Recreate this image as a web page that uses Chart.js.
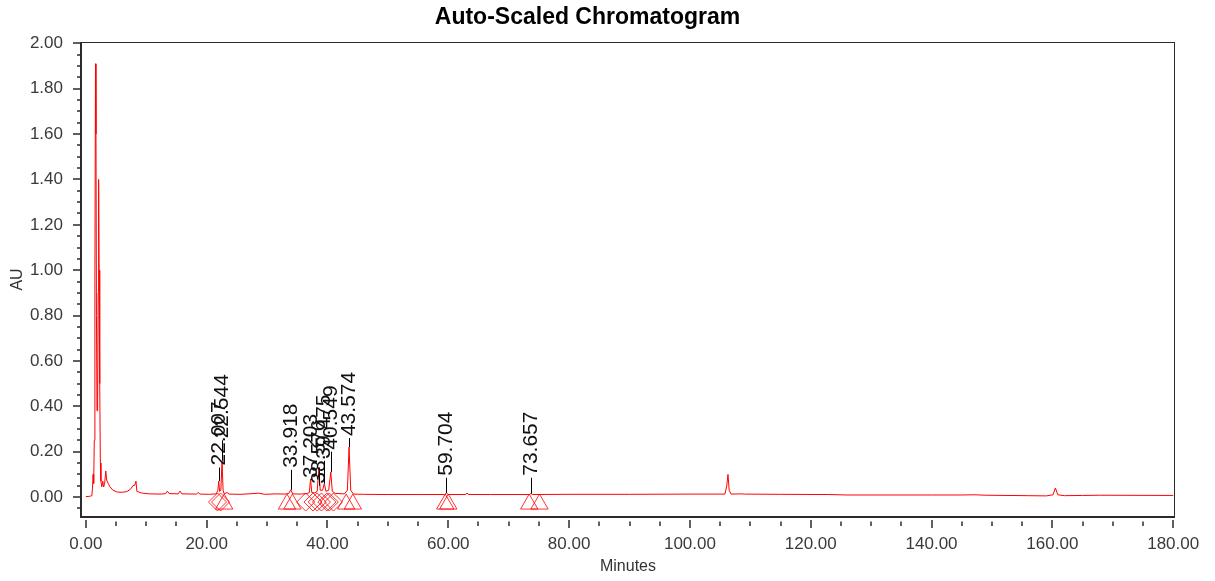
<!DOCTYPE html>
<html>
<head>
<meta charset="utf-8">
<script src="https://cdn.jsdelivr.net/npm/chart.js@4.4.1/dist/chart.umd.min.js"></script>
<style>
  html, body { margin: 0; padding: 0; background: #fff; }
  #wrap { width: 1215px; height: 581px; }
</style>
</head>
<body>
<div id="wrap"><canvas id="chromato" width="1215" height="581"></canvas></div>
<script>
// trace (minutes / AU)
const traceMinutes = [
  0.0, 0.6, 1.0, 1.1, 1.2, 1.3, 1.4, 1.5, 1.6, 1.68, 1.76, 1.85, 1.95, 2.05, 2.12, 2.2, 2.3, 2.4, 2.5,
  2.65, 2.8, 2.95, 3.1, 3.3, 3.45, 3.7, 4.0, 4.5, 5.2, 6.0, 6.8, 7.4, 7.8, 8.1, 8.3, 8.45, 9.2,
  10.5, 12.5, 13.2, 13.5, 13.8, 15.3, 15.6, 15.9, 18.3, 18.6, 18.9, 20.5, 21.6, 21.85, 22.0, 22.15,
  22.35, 22.55, 22.72, 22.9, 23.4, 23.7, 25.5, 27.0, 28.6, 29.6, 31.5, 33.0, 33.6, 33.92, 34.25,
  35.5, 36.6, 37.0, 37.2, 37.4, 37.9, 38.3, 38.58, 38.8, 39.2, 39.48, 39.75, 40.2, 40.55, 40.8,
  41.3, 42.8, 43.3, 43.57, 43.85, 44.3, 46, 50, 55, 59.4, 59.7, 60.0, 62.8, 63.1, 63.4, 67, 73.4,
  73.66, 74.0, 80, 90, 100, 105.8, 106.1, 106.3, 106.5, 106.8, 108.5, 109, 115, 123, 126, 140,
  145, 147, 149, 156, 159, 160.1, 160.5, 160.9, 162, 165, 168, 180
];
const traceAU = [
  0.002, 0.003, 0.006, 0.04, 0.10, 0.06, 0.25, 0.95, 1.91, 1.6, 0.8, 0.38, 0.42, 0.9, 1.40, 1.0, 0.5, 0.15, 0.07,
  0.045, 0.07, 0.045, 0.055, 0.115, 0.075, 0.06, 0.045, 0.03, 0.022, 0.021, 0.024, 0.035, 0.05, 0.052, 0.07, 0.025, 0.018,
  0.014, 0.013, 0.015, 0.026, 0.015, 0.014, 0.026, 0.014, 0.013, 0.02, 0.013, 0.012, 0.014, 0.03, 0.07, 0.025,
  0.03, 0.16, 0.03, 0.014, 0.02, 0.013, 0.012, 0.014, 0.017, 0.012, 0.014, 0.013, 0.016, 0.032, 0.014,
  0.013, 0.015, 0.02, 0.08, 0.02, 0.018, 0.025, 0.13, 0.03, 0.03, 0.06, 0.025, 0.03, 0.11, 0.025,
  0.016, 0.014, 0.03, 0.22, 0.03, 0.013, 0.012, 0.011, 0.011, 0.011, 0.018, 0.011, 0.011, 0.017, 0.011, 0.011, 0.011,
  0.015, 0.011, 0.012, 0.012, 0.013, 0.013, 0.05, 0.10, 0.03, 0.013, 0.014, 0.013, 0.012, 0.011, 0.009, 0.009,
  0.009, 0.010, 0.008, 0.006, 0.005, 0.01, 0.04, 0.01, 0.006, 0.007, 0.008, 0.007
];

// labelled peaks
const peakNames = ['22.007', '22.544', '33.918', '37.203', '38.576', '39.475', '40.549', '43.574', '59.704', '73.657'];
const peakTimes = [22.007, 22.544, 33.918, 37.203, 38.576, 39.475, 40.549, 43.574, 59.704, 73.657];
const peakTops = [0.07, 0.16, 0.032, 0.08, 0.13, 0.06, 0.11, 0.22, 0.018, 0.015];
const labelBaseAU = [0.13, 0.25, 0.12, 0.075, 0.05, 0.16, 0.20, 0.26, 0.085, 0.085];

// integration marks
const triangleTimes = [22.9, 33.3, 34.2, 43.1, 44.2, 59.5, 60.0, 73.4, 75.1];
const diamondTimes = [21.8, 22.3, 36.4, 37.6, 38.3, 39.0, 39.9, 40.3, 41.0];

const FONT = '"Liberation Sans", Arial, sans-serif';

const frameAndTicks = {
  id: 'frameAndTicks',
  afterDraw(chart) {
    const { ctx, chartArea: a, scales: { x, y } } = chart;
    ctx.save();
    ctx.strokeStyle = '#2b2b2b';
    ctx.lineWidth = 1;
    ctx.strokeRect(a.left + 0.5, a.top + 0.5, a.right - a.left - 1, a.bottom - a.top - 1);
    ctx.lineWidth = 2;
    ctx.beginPath();
    ctx.moveTo(a.left, a.top);
    ctx.lineTo(a.left, a.bottom);
    ctx.lineTo(a.right, a.bottom);
    ctx.stroke();

    ctx.lineWidth = 1.5;
    x.ticks.forEach(t => {
      const px = Math.round(x.getPixelForValue(t.value));
      const major = t.label !== '';
      ctx.beginPath();
      ctx.moveTo(px, a.bottom + (major ? 3 : 4.5));
      ctx.lineTo(px, a.bottom + (major ? 11 : 9));
      ctx.stroke();
    });
    y.ticks.forEach(t => {
      const py = Math.round(y.getPixelForValue(t.value));
      const major = t.label !== '';
      ctx.beginPath();
      ctx.moveTo(a.left - (major ? 8 : 4), py);
      ctx.lineTo(a.left, py);
      ctx.stroke();
    });
    ctx.restore();
  }
};

const peakLabels = {
  id: 'peakLabels',
  afterDatasetsDraw(chart) {
    const { ctx, scales: { x, y } } = chart;
    ctx.save();
    ctx.strokeStyle = '#000';
    ctx.fillStyle = '#111';
    ctx.lineWidth = 1;
    ctx.font = '21px ' + FONT;
    peakTimes.forEach((t, i) => {
      const px = Math.round(x.getPixelForValue(t)) + 0.5;
      const yTop = y.getPixelForValue(peakTops[i]);
      const yBase = y.getPixelForValue(labelBaseAU[i]);
      ctx.beginPath();
      ctx.moveTo(px, yTop);
      ctx.lineTo(px, yBase);
      ctx.stroke();
      ctx.save();
      ctx.translate(px, yBase - 2);
      ctx.rotate(-Math.PI / 2);
      ctx.textAlign = 'left';
      ctx.textBaseline = 'middle';
      ctx.fillText(peakNames[i], 0, 0);
      ctx.restore();
    });
    ctx.restore();
  }
};

new Chart(document.getElementById('chromato'), {
  type: 'line',
  data: {
    datasets: [
      {
        data: traceMinutes.map((m, i) => ({ x: m, y: traceAU[i] })),
        borderColor: '#ff0000',
        borderWidth: 1,
        pointRadius: 0,
        tension: 0
      },
      {
        data: triangleTimes.map(m => ({ x: m, y: -0.031 })),
        showLine: false,
        pointStyle: 'triangle',
        pointRadius: 10,
        pointBorderWidth: 1,
        pointBorderColor: 'rgba(255,0,0,0.8)',
        pointBackgroundColor: 'rgba(0,0,0,0)'
      },
      {
        data: diamondTimes.map(m => ({ x: m, y: -0.022 })),
        showLine: false,
        pointStyle: 'rectRot',
        pointRadius: 9,
        pointBorderWidth: 1,
        pointBorderColor: 'rgba(255,0,0,0.8)',
        pointBackgroundColor: 'rgba(0,0,0,0)'
      }
    ]
  },
  options: {
    responsive: false,
    animation: false,
    events: [],
    layout: { padding: { left: 0, right: 40, top: 0, bottom: 0 } },
    plugins: {
      legend: { display: false },
      tooltip: { enabled: false },
      title: {
        display: true,
        text: 'Auto-Scaled Chromatogram',
        color: '#000',
        font: { family: FONT, size: 23, weight: 'bold' },
        padding: { top: 4, bottom: 10.4 }
      }
    },
    scales: {
      x: {
        type: 'linear',
        min: -0.8,
        max: 180.3,
        grid: { display: false },
        border: { display: false },
        afterBuildTicks(scale) {
          const ticks = [];
          for (let v = 0; v <= 180; v += 5) ticks.push({ value: v });
          scale.ticks = ticks;
        },
        afterFit(scale) { scale.height = 64; },
        ticks: {
          autoSkip: false,
          maxRotation: 0,
          padding: 9,
          color: '#3a3a3a',
          font: { family: FONT, size: 17 },
          callback: v => (v % 20 === 0 ? v.toFixed(2) : '')
        },
        title: {
          display: true,
          text: 'Minutes',
          color: '#333',
          font: { family: FONT, size: 16 },
          padding: { top: 0, bottom: 4.5 }
        }
      },
      y: {
        min: -0.088,
        max: 2.006,
        grid: { display: false },
        border: { display: false },
        afterBuildTicks(scale) {
          const ticks = [];
          for (let i = -1; i <= 40; i++) ticks.push({ value: Math.round(i * 5) / 100 });
          scale.ticks = ticks;
        },
        afterFit(scale) { scale.width = 81; },
        ticks: {
          autoSkip: false,
          padding: 10,
          color: '#3a3a3a',
          font: { family: FONT, size: 17 },
          callback: v => {
            const k = v * 5;
            return v >= 0 && Math.abs(k - Math.round(k)) < 1e-6 ? v.toFixed(2) : '';
          }
        },
        title: {
          display: true,
          text: 'AU',
          color: '#333',
          font: { family: FONT, size: 16 },
          padding: { top: 8, bottom: 0 }
        }
      }
    }
  },
  plugins: [frameAndTicks, peakLabels]
});
</script>
</body>
</html>
